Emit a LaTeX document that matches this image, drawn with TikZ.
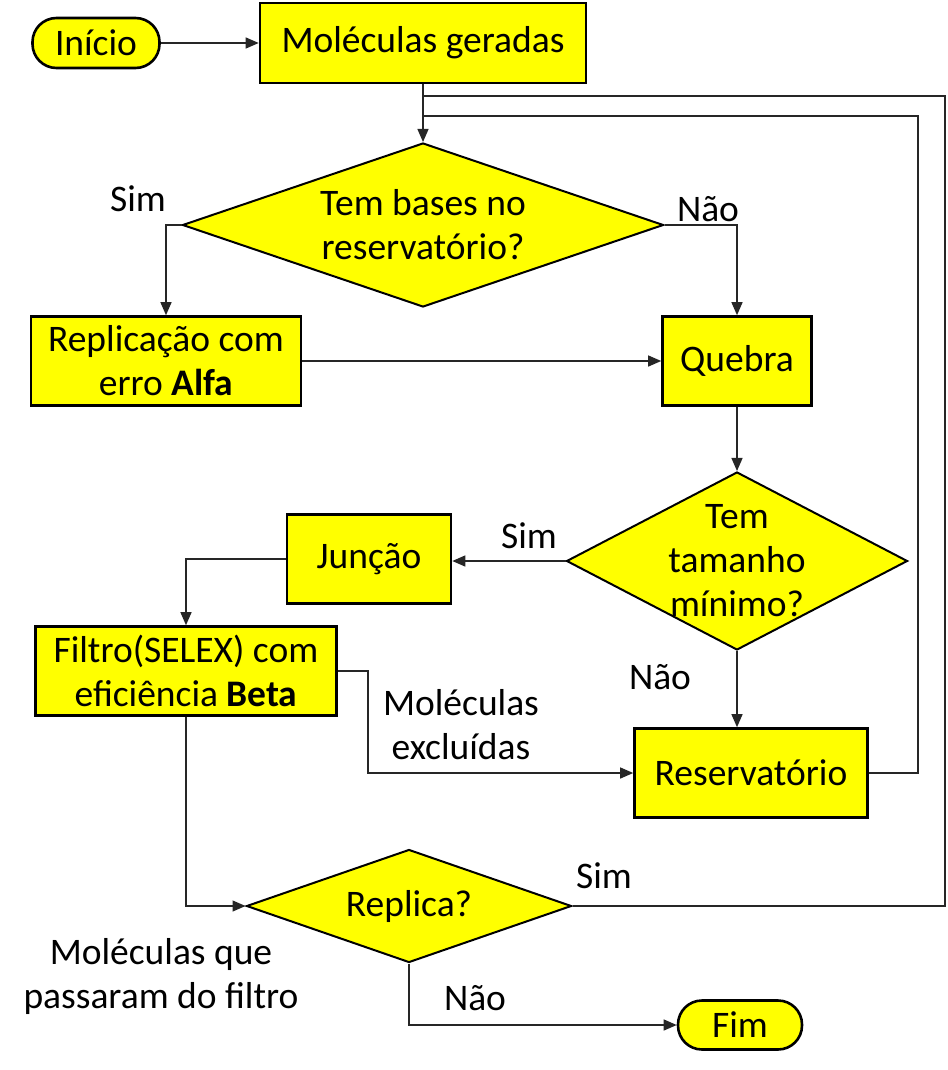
\documentclass[tikz,border=0pt]{standalone}
\usepackage{fontspec}
\setmainfont{Carlito}
\usetikzlibrary{arrows.meta,shapes.geometric}
\newcommand\bigtxt{\fontsize{37.5}{44}\selectfont}
\definecolor{boxyellow}{RGB}{255,255,0}
\tikzset{
  box/.style={draw=black, line width=2.6pt, fill=boxyellow, align=center, font=\bigtxt, inner sep=0pt},
  term/.style={box, rounded corners=24pt},
  dia/.style={draw=black, line width=2pt, fill=boxyellow, shape=diamond, inner sep=0pt},
  dtext/.style={align=center, font=\bigtxt, inner sep=0pt},
  lbl/.style={align=center, font=\bigtxt, inner sep=0pt},
  conn/.style={draw=black!85, line width=1.3pt},
  arr/.style={conn, -{Triangle[length=13pt,width=11pt]}}
}
\begin{document}
\begin{tikzpicture}[x=1pt,y=-1pt]
\useasboundingbox (0,0) rectangle (947,1070);
% nodes
\node[term, minimum width=127pt, minimum height=50pt] (ini) at (96,43) {Início};
\node[box, minimum width=326pt, minimum height=80pt] (mol) at (423,43) {Moléculas geradas};
\node[dia, minimum width=481pt, minimum height=164pt] (d1) at (423,225) {};
\node[dtext] (d1t) at (d1.center) {Tem bases no\\reservatório?};
\node[box, minimum width=270pt, minimum height=89pt] (rep) at (166,361) {Replicação com\\erro \textbf{Alfa}};
\node[box, minimum width=149pt, minimum height=89pt] (que) at (737,361) {Quebra};
\node[dia, minimum width=341pt, minimum height=178pt] (d2) at (737,561) {};
\node[dtext] (d2t) at (d2.center) {Tem\\tamanho\\mínimo?};
\node[box, minimum width=164pt, minimum height=89pt] (jun) at (369,559) {Junção};
\node[box, minimum width=233pt, minimum height=89pt] (res) at (751,773) {Reservatório};
\node[box, minimum width=301pt, minimum height=89pt] (fil) at (186,671) {Filtro(SELEX) com\\eficiência \textbf{Beta}};
\node[dia, minimum width=325pt, minimum height=113pt] (d3) at (409,906) {};
\node[dtext] (d3t) at (d3.center) {Replica?};
\node[term, minimum width=124pt, minimum height=49pt] (fim) at (740,1025) {Fim};
% feedback corner coordinates
\coordinate (fbo) at (945,96);
\coordinate (fbi) at (918,116);
\coordinate (exc) at (368,671);
% connectors
\draw[arr] (ini) -- (mol);
\draw[conn] (d3.east) -| (fbo) -- (fbo -| mol.south);
\draw[conn] (res.east) -| (fbi) -- (fbi -| mol.south);
\draw[arr] (mol.south) -- (d1.north);
\draw[arr] (d1.west) -| (rep.north);
\draw[arr] (d1.east) -| (que.north);
\draw[arr] (rep) -- (que);
\draw[arr] (que) -- (d2);
\draw[arr] (d2.west) -- (d2.west -| jun.east);
\draw[arr] (jun.west) -| (fil.north);
\draw[arr] (d2.south) -- (d2.south |- res.north);
\draw[arr] (fil.east) -- (exc) |- (res.west);
\draw[arr] (fil.south) |- (d3.west);
\draw[arr] (d3.south) |- (fim.west);
% labels
\node[lbl] (l1) at (138,199) {Sim};
\node[lbl] (l2) at (708,209) {Não};
\node[lbl] (l3) at (529,536) {Sim};
\node[lbl] (l4) at (660,677) {Não};
\node[lbl] (l5) at (461,725) {Moléculas\\excluídas};
\node[lbl] (l6) at (161,976) {Moléculas que\\passaram do filtro};
\node[lbl] (l7) at (604,876) {Sim};
\node[lbl] (l8) at (475,998) {Não};
\end{tikzpicture}
\end{document}
